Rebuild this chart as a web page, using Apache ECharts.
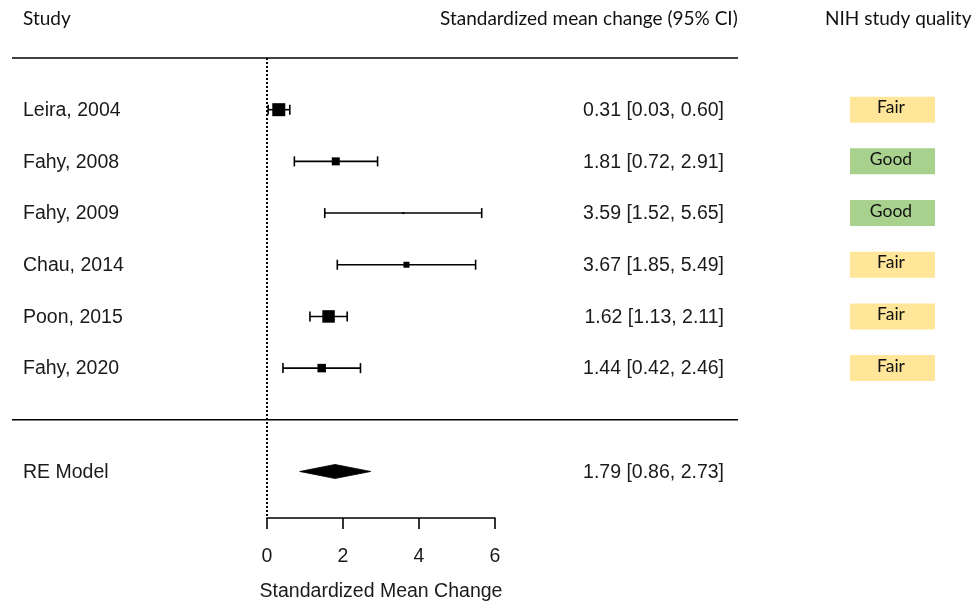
<!DOCTYPE html>
<html>
<head>
<meta charset="utf-8">
<script src="https://cdn.jsdelivr.net/npm/echarts@6/dist/echarts.min.js"></script>
<style>
html, body { margin: 0; padding: 0; background: #fff; }
#main { width: 974px; height: 602px; }
</style>
</head>
<body>
<div id="main"></div>
<script>
// study level data
var studies = ['Leira, 2004', 'Fahy, 2008', 'Fahy, 2009', 'Chau, 2014', 'Poon, 2015', 'Fahy, 2020'];
var estimates = [0.31, 1.81, 3.59, 3.67, 1.62, 1.44];
var lower = [0.03, 0.72, 1.52, 1.85, 1.13, 0.42];
var upper = [0.60, 2.91, 5.65, 5.49, 2.11, 2.46];
var weights = [26, 16, 4, 12, 25, 17];   // % weight, sets box size
var quality = ['Fair', 'Good', 'Good', 'Fair', 'Fair', 'Fair'];

// pooled estimate
var pooledLabel = 'RE Model';
var pooled = [1.79, 0.86, 2.73];   // est, lower, upper

var xTicks = [0, 2, 4, 6];

var qualityColor = { Fair: '#ffe699', Good: '#a9d18e' };
var txtFont = '"Liberation Sans", Arial, sans-serif';
var hdrFont = 'Lato, "Open Sans", sans-serif';

function fmt(v) { return v.toFixed(2); }

// rows 1..6 studies, 8 = pooled, 0 and 7 = separator lines
var studyData = studies.map(function (s, i) {
    return [estimates[i], lower[i], upper[i], i + 1, weights[i]];
});

function renderStudy(params, api) {
    var y = api.coord([0, api.value(3)])[1];
    var xe = api.coord([api.value(0), 0])[0];
    var xl = api.coord([api.value(1), 0])[0];
    var xh = api.coord([api.value(2), 0])[0];
    var s = api.value(4) * 0.5;
    var ls = { stroke: '#000', lineWidth: 1.6 };
    return {
        type: 'group',
        children: [
            { type: 'line', shape: { x1: xl, y1: y, x2: xh, y2: y }, style: ls },
            { type: 'line', shape: { x1: xl, y1: y - 5, x2: xl, y2: y + 5 }, style: ls },
            { type: 'line', shape: { x1: xh, y1: y - 5, x2: xh, y2: y + 5 }, style: ls },
            { type: 'rect', shape: { x: xe - s / 2, y: y - s / 2, width: s, height: s }, style: { fill: '#000' } }
        ]
    };
}

function renderDiamond(params, api) {
    var y = api.coord([0, api.value(3)])[1];
    var xe = api.coord([api.value(0), 0])[0];
    var xl = api.coord([api.value(1), 0])[0];
    var xh = api.coord([api.value(2), 0])[0];
    return {
        type: 'polygon',
        shape: { points: [[xl, y], [xe, y - 7], [xh, y], [xe, y + 7]] },
        style: { fill: '#000', stroke: '#000', lineWidth: 0.8 }
    };
}

// left labels, CI text and quality badges
var textData = studies.map(function (s, i) {
    return [estimates[i], i + 1, s, fmt(estimates[i]) + ' [' + fmt(lower[i]) + ', ' + fmt(upper[i]) + ']', quality[i]];
});
textData.push([pooled[0], 8, pooledLabel, fmt(pooled[0]) + ' [' + fmt(pooled[1]) + ', ' + fmt(pooled[2]) + ']', '']);

function renderText(params, api) {
    var d = textData[params.dataIndex];
    var y = api.coord([0, d[1]])[1];
    var kids = [
        { type: 'text', x: 23, y: y + 1, style: { text: d[2], font: '19.5px ' + txtFont, fill: '#1a1a1a', verticalAlign: 'middle', align: 'left' } },
        { type: 'text', x: 724, y: y + 1, style: { text: d[3], font: '19.5px ' + txtFont, fill: '#1a1a1a', verticalAlign: 'middle', align: 'right' } }
    ];
    if (d[4]) {
        kids.push({ type: 'rect', shape: { x: 850, y: y - 13, width: 85, height: 26 }, style: { fill: qualityColor[d[4]] } });
        kids.push({ type: 'text', x: 891, y: y - 2, style: { text: d[4], font: '17.5px ' + hdrFont, fill: '#111', verticalAlign: 'middle', align: 'center' } });
    }
    return { type: 'group', children: kids };
}

function renderSep(params, api) {
    var y = api.coord([0, api.value(1)])[1];
    return { type: 'line', shape: { x1: 12, y1: y, x2: 738, y2: y }, style: { stroke: '#000', lineWidth: 1.6 } };
}

var option = {
    animation: false,
    grid: { left: 267, right: 479, top: 58, bottom: 84, containLabel: false, outerBoundsMode: 'none' },
    xAxis: {
        type: 'value',
        min: xTicks[0],
        max: xTicks[xTicks.length - 1],
        interval: 2,
        splitLine: { show: false },
        axisLine: { show: true, onZero: false, lineStyle: { color: '#000', width: 1.6 } },
        axisTick: { show: true, length: 11, lineStyle: { color: '#000', width: 1.6 } },
        axisLabel: { fontSize: 19.5, fontFamily: txtFont, color: '#1a1a1a', margin: 29 },
        name: 'Standardized Mean Change',
        nameLocation: 'middle',
        nameGap: 64,
        nameTextStyle: { fontSize: 19.5, fontFamily: txtFont, color: '#1a1a1a' }
    },
    yAxis: { type: 'value', min: 0, max: 8.9, inverse: true, show: false },
    graphic: [
        { type: 'text', left: 23, top: 9, style: { text: 'Study', font: '19px ' + hdrFont, fill: '#111' } },
        { type: 'text', left: 440, top: 9, style: { text: 'Standardized mean change (95% CI)', font: '19px ' + hdrFont, fill: '#111' } },
        { type: 'text', left: 825, top: 9, style: { text: 'NIH study quality', font: '19px ' + hdrFont, fill: '#111' } }
    ],
    series: [
        {
            type: 'custom',
            renderItem: renderSep,
            data: [[0, 0], [0, 7]],
            encode: { x: 0, y: 1 },
            silent: true
        },
        {
            type: 'custom',
            renderItem: renderStudy,
            data: studyData,
            encode: { x: [0, 1, 2], y: 3 },
            silent: true,
            markLine: {
                silent: true,
                symbol: 'none',
                label: { show: false },
                lineStyle: { color: '#000', type: [2, 2], width: 2 },
                data: [{ xAxis: 0 }]
            }
        },
        {
            type: 'custom',
            renderItem: renderDiamond,
            data: [[pooled[0], pooled[1], pooled[2], 8]],
            encode: { x: [0, 1, 2], y: 3 },
            silent: true
        },
        {
            type: 'custom',
            renderItem: renderText,
            data: textData.map(function (d) { return [d[0], d[1]]; }),
            encode: { x: 0, y: 1 },
            silent: true
        }
    ]
};

echarts.init(document.getElementById('main')).setOption(option);
</script>
</body>
</html>
